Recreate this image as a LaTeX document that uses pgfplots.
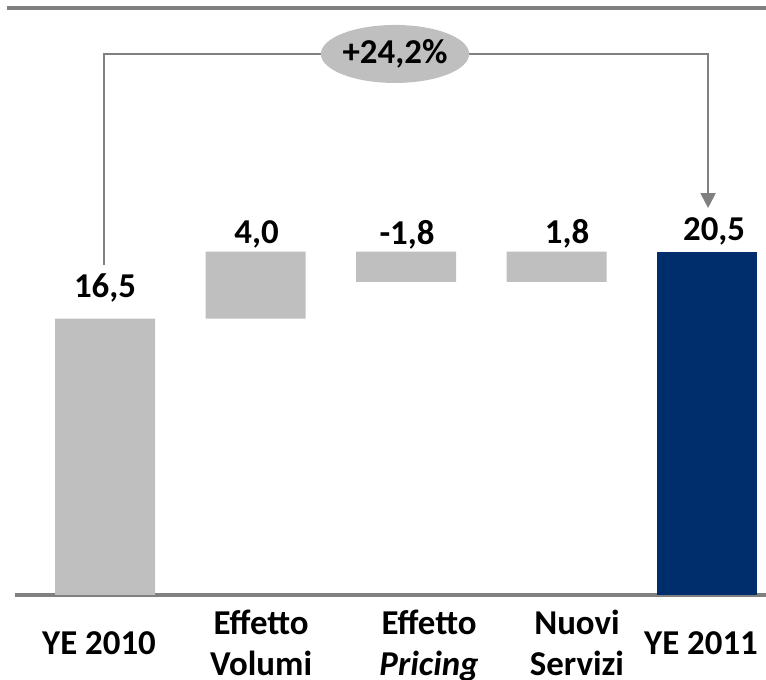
\documentclass[border=0pt]{standalone}
\usepackage{pgfplots}
\pgfplotsset{compat=1.18}
\usepackage{fontspec}
\setmainfont{Carlito}
\usetikzlibrary{arrows.meta,shapes.geometric}
\definecolor{barGray}{HTML}{BFBFBF}
\definecolor{navy}{HTML}{002D6B}
\definecolor{lineGray}{HTML}{808080}
\tikzset{vlab/.style={anchor=base, font=\bfseries\fontsize{35}{41}\selectfont}}
\begin{document}
\begin{tikzpicture}
\begin{axis}[
  scale only axis,
  width=751bp, height=586.25bp,
  xmin=-0.598, xmax=4.392, ymin=0, ymax=35,
  ybar stacked, bar width=100bp,
  axis x line*=bottom, axis y line=none,
  x axis line style={lineGray, line width=4bp, -},
  xtick={-0.04,1.037,2.153,3.136,3.96},
  xticklabels={\raisebox{-12bp}[0pt][0pt]{YE 2010},{Effetto\\Volumi},{Effetto\\\raisebox{0pt}[\height][0pt]{\textit{Pricing}}},{Nuovi\\Servizi},\raisebox{-12bp}[0pt][0pt]{YE 2011}},
  major tick length=0pt,
  xticklabel style={font=\bfseries\fontsize{35}{41}\selectfont, align=center, anchor=center, yshift=-48bp},
  clip=false,
]
\addplot[draw=none, fill=none] coordinates {(0,0) (1,16.5) (2,18.7) (3,18.7) (4,0)};
\addplot[draw=none, fill=barGray] coordinates {(0,16.5) (1,4.0) (2,1.8) (3,1.8) (4,0)};
\addplot[draw=none, fill=navy] coordinates {(0,0) (1,0) (2,0) (3,0) (4,20.5)};

\node[vlab] at (axis cs:0,17.79) {16,5};
\node[vlab] at (axis cs:1.007,21.01) {4,0};
\node[vlab] at (axis cs:2.007,20.9) {-1,8};
\node[vlab] at (axis cs:3.07,21.0) {1,8};
\node[vlab] at (axis cs:4.047,21.19) {20,5};

\coordinate (tl) at (axis cs:-0.651,35.07);
\coordinate (tr2) at (axis cs:4.392,35.07);
\coordinate (b1) at (axis cs:-0.007,19.70);
\coordinate (b2) at (axis cs:-0.007,32.30);
\coordinate (b3) at (axis cs:4.007,32.30);
\coordinate (b4) at (axis cs:4.007,23.1);
\coordinate (ell) at (axis cs:1.927,32.30);
\coordinate (bl) at (axis cs:-0.6977,-5.075);
\coordinate (tr) at (axis cs:4.392,35.522);
\end{axis}
\draw[lineGray, line width=4bp] (tl) -- (tr2);
\draw[lineGray, line width=2bp, -{Triangle[length=15bp,width=15bp]}]
  (b1) -- (b2) -- (b3) -- (b4);
\node[ellipse, fill=barGray, minimum width=144bp, minimum height=58bp, inner sep=0pt,
  font=\bfseries\fontsize{35}{41}\selectfont] at (ell) {+24,2\%};
\pgfresetboundingbox
\useasboundingbox (bl) rectangle (tr);
\end{tikzpicture}
\end{document}
